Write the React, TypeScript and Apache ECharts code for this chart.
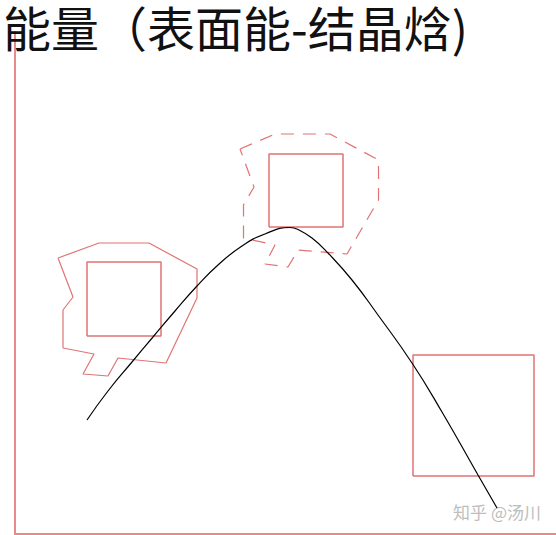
import * as echarts from "echarts";
import { useEffect, useRef } from "react";

// coordinates are in axis units: x from the vertical axis, y up from the horizontal axis
const curve: [number, number][] = [
    [72, 114], [93, 143], [117, 172], [138, 197], [160, 223], [182, 248],
    [203, 269], [227, 288], [250, 300], [275, 306.5], [283, 304.5], [297, 296],
    [313, 281], [337, 254], [363, 219], [397, 171], [427, 122], [463, 59], [482, 26]
];

const squareA: [number, number][] = [[72, 198], [146, 198], [146, 272], [72, 272], [72, 198]];
const squareB: [number, number][] = [[254, 307], [328, 307], [328, 380], [254, 380], [254, 307]];
const squareC: [number, number][] = [[398, 58], [519, 58], [519, 179], [398, 179], [398, 58]];

const outlineSolid: [number, number][] = [
    [43, 276], [84, 291], [134, 291], [182, 265], [182, 236], [151, 171], [103, 176],
    [93, 158], [68, 160], [79, 180], [48, 186], [48, 224], [58, 237], [43, 276]
];

const outlineDashed: [number, number][] = [
    [225, 385], [260, 400], [315, 400], [363.5, 374], [363.5, 334], [332, 280], [283, 284],
    [273, 267], [250, 270], [260, 289], [228.5, 296], [228.5, 329], [239, 347], [225, 385]
];

const titleText = "能量（表面能-结晶焓)";
const watermark = "知乎 @汤川";

const red = "#e07474";
const axisRed = "#e88a8a";

export default function App() {
    const chartRef = useRef<HTMLDivElement>(null);

    useEffect(() => {
        if (!chartRef.current) return;
        const chart = echarts.init(chartRef.current, null, { renderer: "svg" });

        const outline = (data: [number, number][], width: number, type: any = "solid") => ({
            type: "line" as const,
            data,
            symbol: "none",
            clip: false,
            silent: true,
            lineStyle: { color: red, width, type }
        });

        const option: echarts.EChartsOption = {
            animation: false,
            backgroundColor: "#fff",
            title: {
                text: titleText,
                left: 3,
                top: 2,
                padding: 0,
                textStyle: {
                    fontFamily: "Noto Sans CJK SC",
                    fontSize: 48,
                    fontWeight: "normal",
                    color: "#111"
                }
            },
            grid: { left: 15, right: 0, top: 32, bottom: 1 },
            xAxis: {
                type: "value",
                min: 0,
                max: 541,
                axisLine: { show: true, lineStyle: { color: axisRed, width: 2 } },
                axisTick: { show: false },
                axisLabel: { show: false },
                splitLine: { show: false }
            },
            yAxis: {
                type: "value",
                min: 0,
                max: 502,
                axisLine: { show: true, lineStyle: { color: axisRed, width: 2 } },
                axisTick: { show: false },
                axisLabel: { show: false },
                splitLine: { show: false }
            },
            graphic: [
                {
                    type: "text",
                    right: 15,
                    bottom: 15,
                    style: {
                        text: watermark,
                        fill: "#bdbdbd",
                        font: "17px 'Noto Sans CJK SC'"
                    }
                }
            ],
            series: [
                outline(squareA, 1.5),
                outline(squareB, 1.5),
                outline(squareC, 1.5),
                outline(outlineSolid, 1.2),
                outline(outlineDashed, 1.2, [13, 9]),
                {
                    type: "line",
                    data: curve,
                    smooth: 0.5,
                    symbol: "none",
                    clip: false,
                    silent: true,
                    lineStyle: { color: "#000", width: 1.2 }
                }
            ]
        };

        chart.setOption(option);
        return () => chart.dispose();
    }, []);

    return (
        <div
            ref={chartRef}
            style={{ position: "absolute", left: 0, top: 0, width: 556, height: 535 }}
        />
    );
}
